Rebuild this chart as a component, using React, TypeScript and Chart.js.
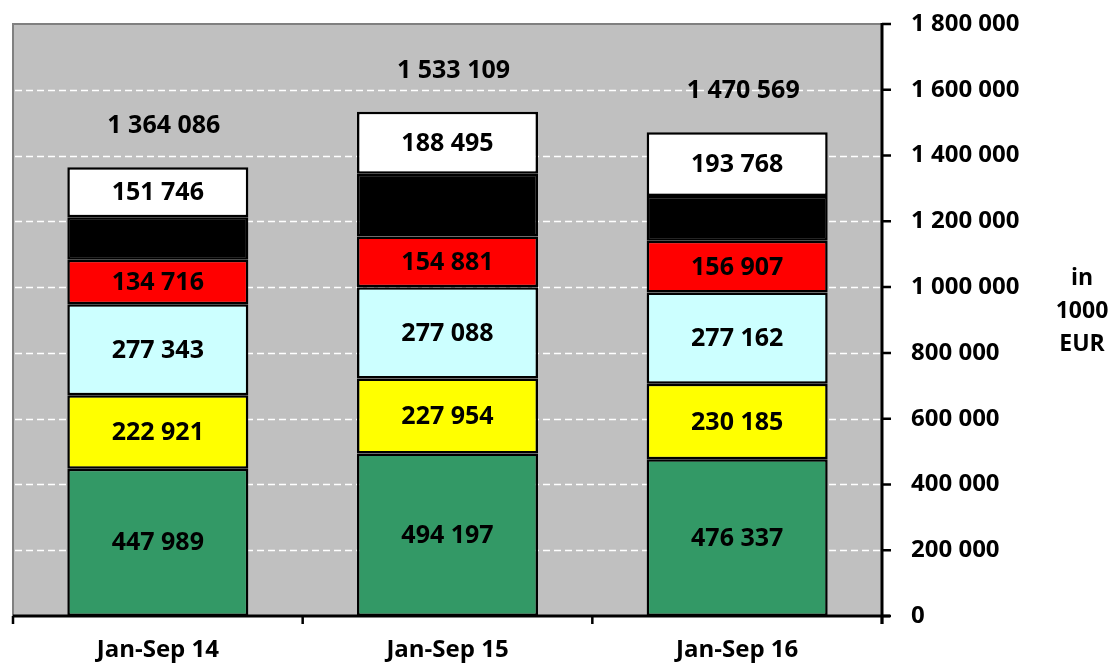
import React, { useEffect, useRef } from "react";
import { Chart, registerables } from "chart.js";

Chart.register(...registerables);

const categories = ["Jan-Sep 14", "Jan-Sep 15", "Jan-Sep 16"];
const greenValues = [447989, 494197, 476337];
const yellowValues = [222921, 227954, 230185];
const cyanValues = [277343, 277088, 277162];
const redValues = [134716, 154881, 156907];
const blackValues = [129371, 190494, 136210];
const whiteValues = [151746, 188495, 193768];
const totals = [1364086, 1533109, 1470569];
const yTicks = [0, 200000, 400000, 600000, 800000, 1000000, 1200000, 1400000, 1600000, 1800000];
const unitLines = ["in", "1000", "EUR"];

const FONT = "'Open Sans', Lato, sans-serif";

function fmt(v: number): string {
  return String(v).replace(/\B(?=(\d{3})+(?!\d))/g, " ");
}

const customPlugin = {
  id: "custom",
  beforeDatasetsDraw(chart: any) {
    const { ctx, chartArea } = chart;
    const { left, right, top, bottom } = chartArea;
    const y = chart.scales.y;
    ctx.save();
    ctx.fillStyle = "#C0C0C0";
    ctx.fillRect(left, top, right - left, bottom - top);
    ctx.strokeStyle = "#808080";
    ctx.lineWidth = 2;
    ctx.beginPath();
    ctx.moveTo(left, bottom);
    ctx.lineTo(left, top);
    ctx.lineTo(right, top);
    ctx.stroke();
    ctx.strokeStyle = "#FFFFFF";
    ctx.lineWidth = 1.5;
    ctx.setLineDash([7, 4]);
    yTicks.forEach((t) => {
      if (t === 0 || t === yTicks[yTicks.length - 1]) return;
      const py = Math.round(y.getPixelForValue(t)) + 0.5;
      ctx.beginPath();
      ctx.moveTo(left + 2, py);
      ctx.lineTo(right, py);
      ctx.stroke();
    });
    ctx.restore();
  },
  afterDatasetsDraw(chart: any) {
    const { ctx, chartArea } = chart;
    const { left, right, top, bottom } = chartArea;
    const x = chart.scales.x;
    const y = chart.scales.y;
    ctx.save();
    ctx.strokeStyle = "#000";
    ctx.lineWidth = 3;
    ctx.beginPath();
    ctx.moveTo(right, top - 1);
    ctx.lineTo(right, bottom + 8);
    ctx.moveTo(left, bottom);
    ctx.lineTo(right + 8, bottom);
    ctx.stroke();
    ctx.lineWidth = 2.5;
    ctx.beginPath();
    yTicks.forEach((t) => {
      const py = y.getPixelForValue(t);
      ctx.moveTo(right, py);
      ctx.lineTo(right + 9, py);
    });
    const n = categories.length;
    for (let i = 0; i <= n; i++) {
      const px = left + ((right - left) * i) / n;
      ctx.moveTo(px, bottom);
      ctx.lineTo(px, bottom + 8);
    }
    ctx.stroke();

    ctx.textAlign = "center";
    ctx.textBaseline = "middle";
    ctx.fillStyle = "#000";
    ctx.font = `bold 25px ${FONT}`;
    chart.data.datasets.forEach((ds: any, di: number) => {
      if (ds.noLabel) return;
      const meta = chart.getDatasetMeta(di);
      meta.data.forEach((bar: any, i: number) => {
        const cy = (bar.y + bar.base) / 2;
        ctx.fillText(fmt(ds.data[i]), bar.x, cy + 1);
      });
    });
    categories.forEach((_, i) => {
      const px = x.getPixelForValue(i);
      const py = y.getPixelForValue(totals[i]);
      ctx.fillText(fmt(totals[i]), px + 6, py - 41);
    });
    ctx.font = `bold 23px ${FONT}`;
    unitLines.forEach((t, i) => {
      ctx.fillText(t, 1082, 278 + i * 33);
    });
    ctx.restore();
  },
};

export default function App() {
  const ref = useRef<HTMLCanvasElement | null>(null);
  useEffect(() => {
    document.body.style.margin = "0";
    const canvas = ref.current!;
    const mk = (label: string, data: number[], color: string, noLabel = false) => ({
      label,
      data,
      backgroundColor: color,
      borderColor: "#000",
      borderWidth: 2.5,
      borderSkipped: false,
      categoryPercentage: 1,
      barPercentage: 0.625,
      noLabel,
    });
    const chart = new Chart(canvas, {
      type: "bar",
      data: {
        labels: categories,
        datasets: [
          mk("g", greenValues, "#339966"),
          mk("y", yellowValues, "#FFFF00"),
          mk("c", cyanValues, "#CCFFFF"),
          mk("r", redValues, "#FF0000"),
          mk("b", blackValues, "#000000", true),
          mk("w", whiteValues, "#FFFFFF"),
        ] as any,
      },
      options: {
        animation: false,
        responsive: false,
        maintainAspectRatio: false,
        layout: { padding: { left: 13, top: 24, right: 0, bottom: 0 } },
        plugins: { legend: { display: false }, tooltip: { enabled: false } },
        scales: {
          x: {
            stacked: true,
            grid: { display: false },
            border: { display: false },
            ticks: {
              color: "#000",
              font: { family: FONT, size: 24, weight: "bold" },
              padding: 12,
            },
            afterFit(scale: any) {
              scale.height = 51;
              scale.paddingLeft = 0;
              scale.paddingRight = 0;
            },
          },
          y: {
            stacked: true,
            position: "right",
            min: 0,
            max: 1800000,
            grid: { display: false },
            border: { display: false },
            afterBuildTicks(scale: any) {
              scale.ticks = yTicks.map((v) => ({ value: v }));
            },
            ticks: {
              color: "#000",
              font: { family: FONT, size: 24, weight: "bold" },
              padding: 21,
              callback: (v: any) => fmt(Number(v)),
            },
            afterFit(scale: any) {
              scale.width = 235;
              scale.paddingTop = 0;
              scale.paddingBottom = 0;
            },
          },
        },
      },
      plugins: [customPlugin],
    });
    return () => chart.destroy();
  }, []);
  return (
    <div style={{ width: 1117, height: 667 }}>
      <canvas ref={ref} width={1117} height={667} style={{ display: "block" }} />
    </div>
  );
}
